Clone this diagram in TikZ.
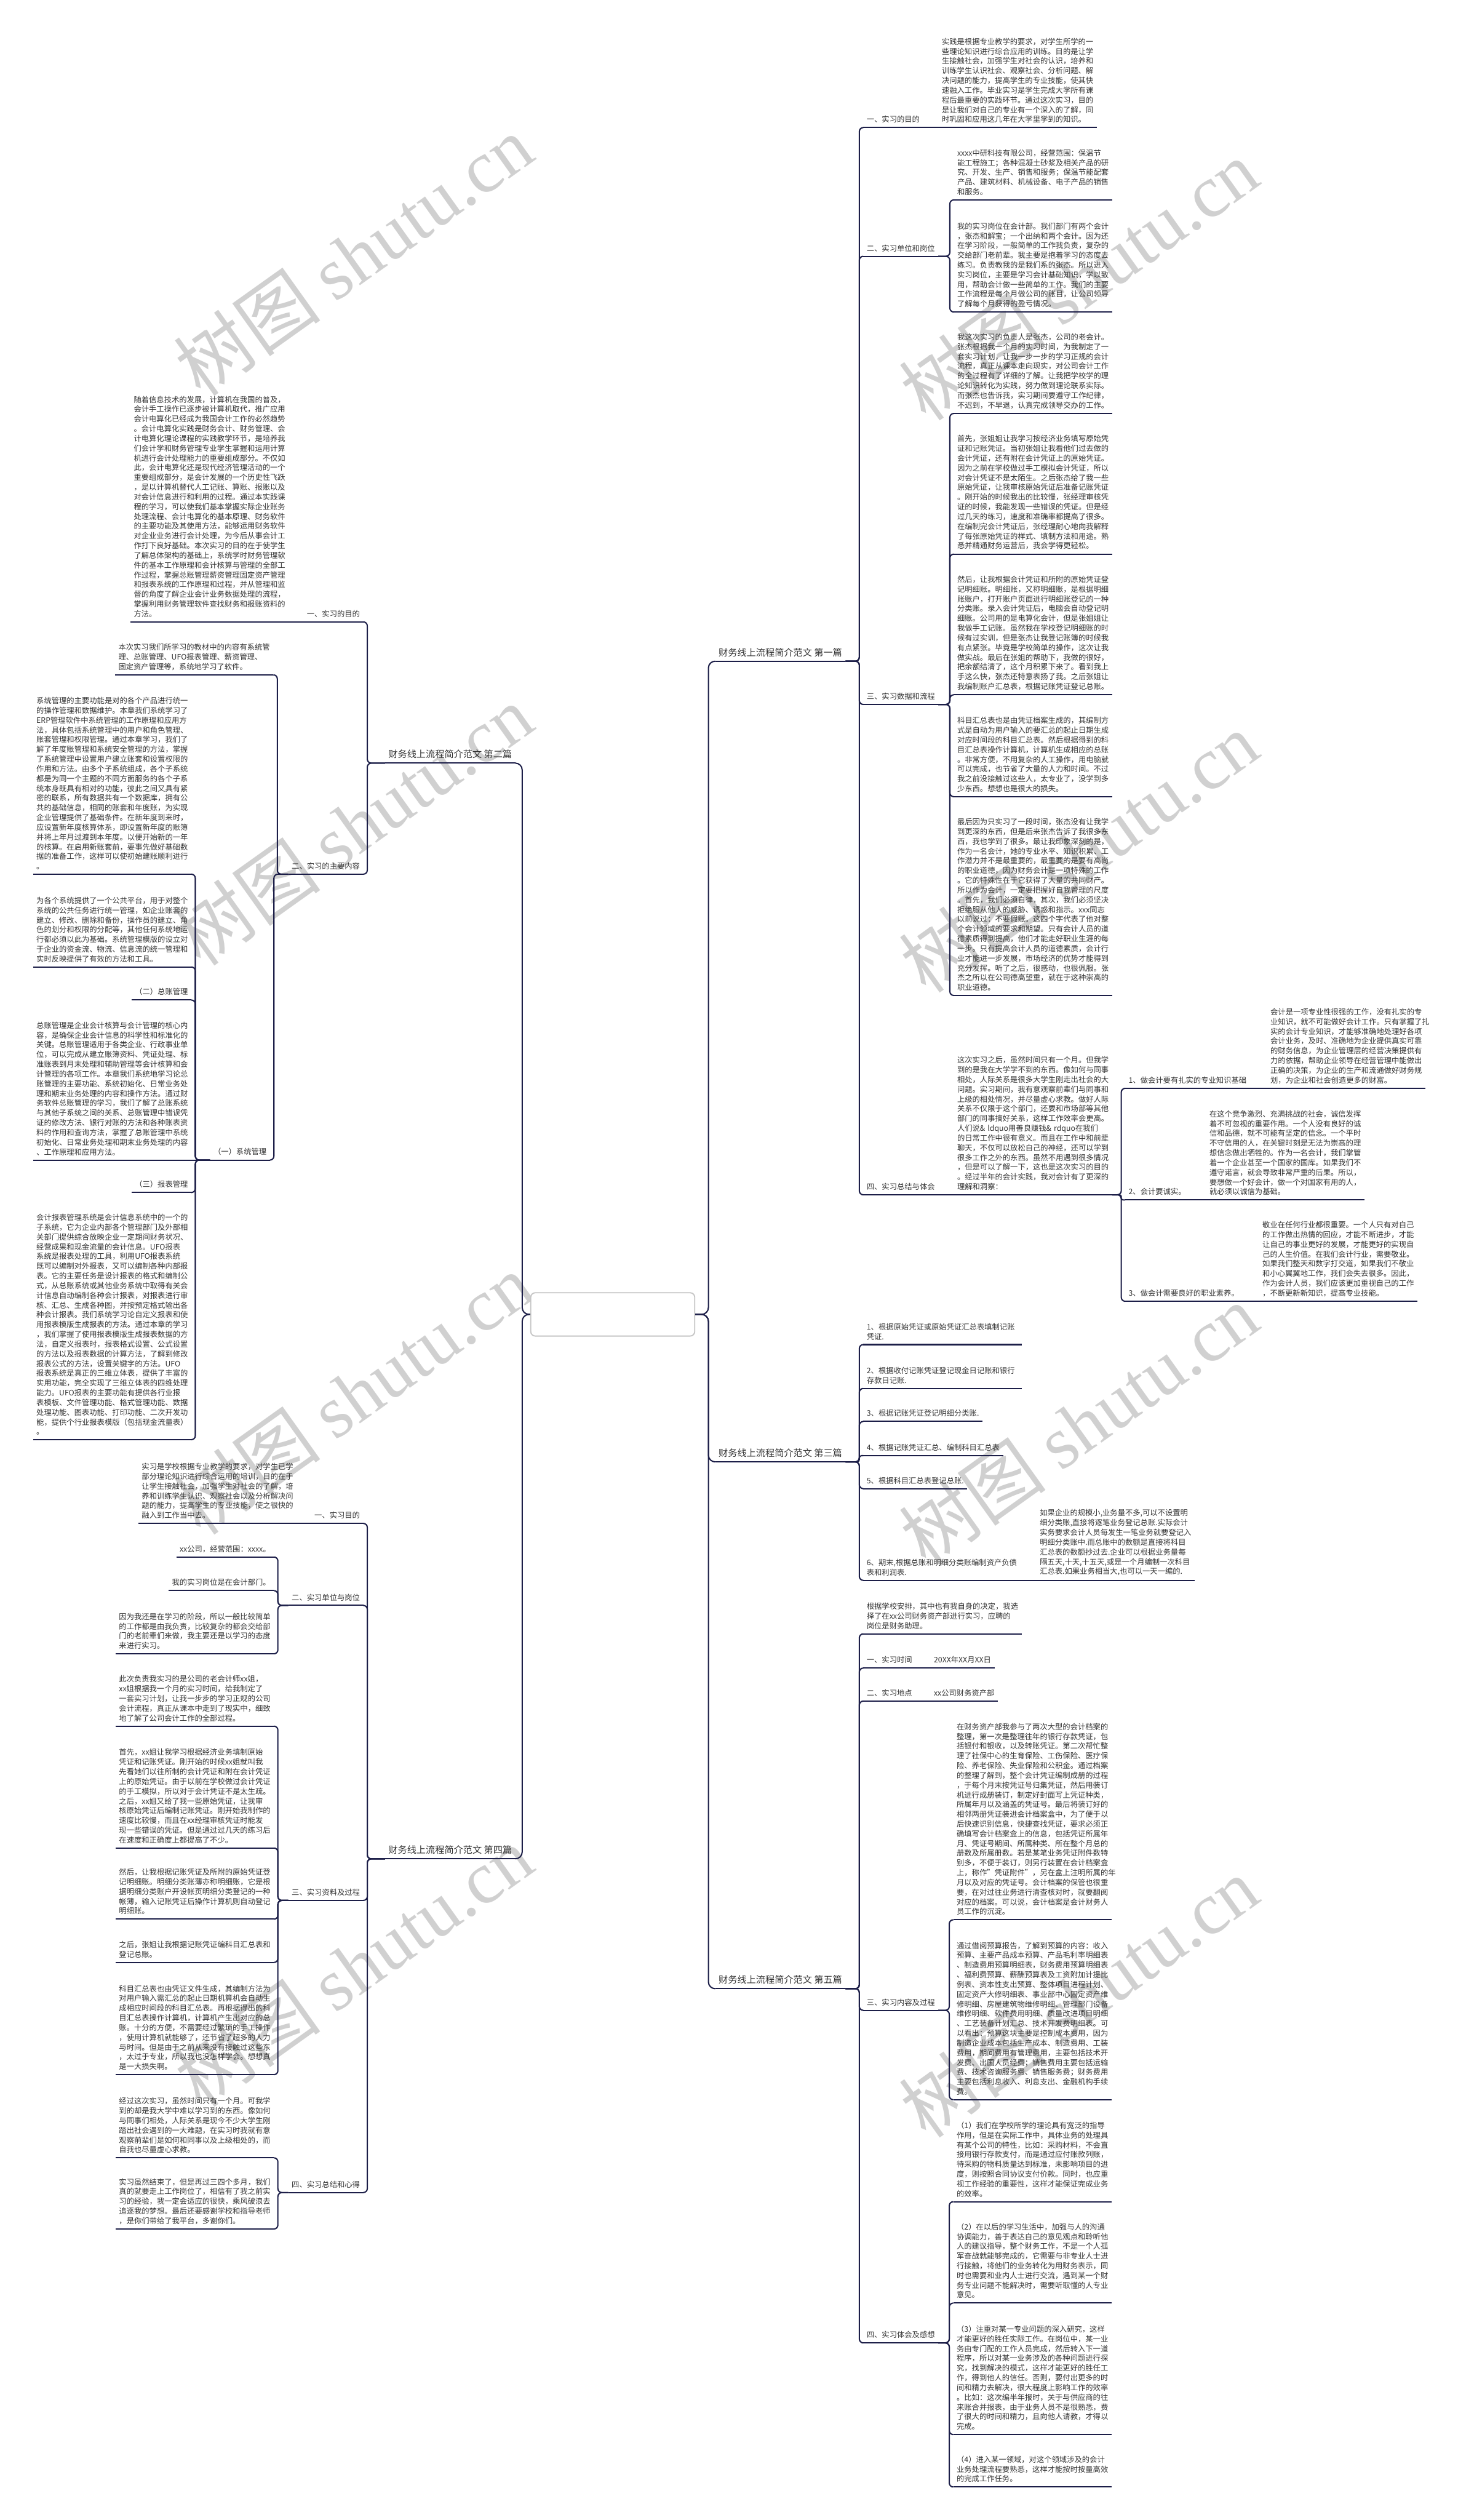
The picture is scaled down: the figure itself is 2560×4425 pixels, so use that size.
\documentclass[tikz,border=0pt]{standalone}
\usepackage{fontspec}
\setmainfont{Noto Sans CJK SC}
\newfontfamily\wmlatin{Liberation Serif}
\usepackage{xcolor}
\definecolor{colTrait}{RGB}{28,30,72}
\definecolor{colTexte}{RGB}{51,51,51}
\definecolor{colFiligrane}{RGB}{208,208,208}
\newcommand\corps{\fontsize{6.65pt}{8.55pt}\selectfont}
\newcommand\grand{\fontsize{8.2pt}{10pt}\selectfont}

\tikzset{
  branche/.style={draw=colTrait, line width=1.1pt},
  item/.style={font=\corps, text=colTexte, inner xsep=3pt, inner ysep=4pt,
               outer sep=0pt, align=left},
  droite/.style={item, anchor=south west},
  gauche/.style={item, anchor=south east},
  bloc/.style={text width=133pt},
  titre/.style={font=\grand},
  racine/.style={draw=gray!45, line width=1pt, rounded corners=4pt, fill=white,
                 minimum width=144pt, minimum height=38pt},
  filigrane/.style={font=\fontsize{65pt}{65pt}\selectfont, text=colFiligrane,
                    rotate=35.5, anchor=base west, inner sep=0pt}
}
\newcommand\rlink[3][3.5pt]{\draw[branche, rounded corners=#1] (#2) -| ([xshift=-3.5pt]#3) -- (#3);}
\newcommand\llink[3][3.5pt]{\draw[branche, rounded corners=#1] (#2) -| ([xshift=3.5pt]#3) -- (#3);}

\begin{document}
\begin{tikzpicture}[x=0.5pt, y=-0.5pt]

\fill[white] (0,0) rectangle (2560,4425);
\useasboundingbox (0,0) rectangle (2560,4425);

% Filigrane
\foreach \y in {700,1700,2699,3704} {
    \node[filigrane] at (353,\y) {树图 {\wmlatin shutu.cn}};
}
\foreach \y in {743,1748,2753,3758} {
    \node[filigrane] at (1627,\y) {树图 {\wmlatin shutu.cn}};
}

% Racine
\node[racine] (root) at (1076,2308) {};

% Colonnes
\def\xa{1516}
\def\xb{1675}
\def\xl{638}
\def\xm{481}
\def\xn{336}

% ---------- Premier article (droite, haut)
\node[droite, titre] (A) at (1256,1161) {财务线上流程简介范文 第一篇};
\node[droite] (A1) at (\xa,224) {一、实习的目的};
\node[droite, bloc] (A1t) at (1648,224) {实践是根据专业教学的要求，对学生所学的一\\
些理论知识进行综合应用的训练。目的是让学\\
生接触社会，加强学生对社会的认识，培养和\\
训练学生认识社会、观察社会、分析问题、解\\
决问题的能力，提高学生的专业技能，使其快\\
速融入工作。毕业实习是学生完成大学所有课\\
程后最重要的实践环节。通过这次实习，目的\\
是让我们对自己的专业有一个深入的了解，同\\
时巩固和应用这几年在大学里学到的知识。};
\node[droite] (A2) at (\xa,450) {二、实习单位和岗位};
\node[droite, bloc] (A2a) at (\xb,351) {xxxx中研科技有限公司，经营范围：保温节\\
能工程施工；各种混凝土砂浆及相关产品的研\\
究、开发、生产、销售和服务；保温节能配套\\
产品、建筑材料、机械设备、电子产品的销售\\
和服务。};
\node[droite, bloc] (A2b) at (\xb,548) {我的实习岗位在会计部。我们部门有两个会计\\
，张杰和解宝；一个出纳和两个会计。因为还\\
在学习阶段，一般简单的工作我负责，复杂的\\
交给部门老前辈。我主要是抱着学习的态度去\\
练习。负责教我的是我们系的张杰。所以进入\\
实习岗位，主要是学习会计基础知识，学以致\\
用，帮助会计做一些简单的工作。我们的主要\\
工作流程是每个月做公司的账目，让公司领导\\
了解每个月获得的盈亏情况。};
\node[droite] (A3) at (\xa,1237) {三、实习数据和流程};
\node[droite, bloc] (A3a) at (\xb,726) {我这次实习的负责人是张杰，公司的老会计。\\
张杰根据我一个月的实习时间，为我制定了一\\
套实习计划，让我一步一步的学习正规的会计\\
流程，真正从课本走向现实，对公司会计工作\\
的全过程有了详细的了解。让我把学校学的理\\
论知识转化为实践，努力做到理论联系实际。\\
而张杰也告诉我，实习期间要遵守工作纪律，\\
不迟到，不早退，认真完成领导交办的工作。};
\node[droite, bloc] (A3b) at (\xb,973) {首先，张姐姐让我学习按经济业务填写原始凭\\
证和记账凭证。当初张姐让我看他们过去做的\\
会计凭证，还有附在会计凭证上的原始凭证。\\
因为之前在学校做过手工模拟会计凭证，所以\\
对会计凭证不是太陌生。之后张杰给了我一些\\
原始凭证，让我审核原始凭证后准备记账凭证\\
。刚开始的时候我出的比较慢，张经理审核凭\\
证的时候，我能发现一些错误的凭证。但是经\\
过几天的练习，速度和准确率都提高了很多。\\
在编制完会计凭证后，张经理耐心地向我解释\\
了每张原始凭证的样式、填制方法和用途。熟\\
悉并精通财务运营后，我会学得更轻松。};
\node[droite, bloc] (A3c) at (\xb,1220) {然后，让我根据会计凭证和所附的原始凭证登\\
记明细账。明细账，又称明细账，是根据明细\\
账账户，打开账户页面进行明细账登记的一种\\
分类账。录入会计凭证后，电脑会自动登记明\\
细账。公司用的是电算化会计，但是张姐姐让\\
我做手工记账。虽然我在学校登记明细账的时\\
候有过实训，但是张杰让我登记账簿的时候我\\
有点紧张。毕竟是学校简单的操作，这次让我\\
做实战。最后在张姐的帮助下，我做的很好，\\
把余额结清了，这个月积累下来了。看到我上\\
手这么快，张杰还特意表扬了我。之后张姐让\\
我编制账户汇总表，根据记账凭证登记总账。};
\node[droite, bloc] (A3d) at (\xb,1399) {科目汇总表也是由凭证档案生成的，其编制方\\
式是自动为用户输入的要汇总的起止日期生成\\
对应时间段的科目汇总表。然后根据得到的科\\
目汇总表操作计算机，计算机生成相应的总账\\
。非常方便，不用复杂的人工操作，用电脑就\\
可以完成，也节省了大量的人力和时间。不过\\
我之前没接触过这些人，太专业了，没学到多\\
少东西。想想也是很大的损失。};
\node[droite, bloc] (A3e) at (\xb,1748) {最后因为只实习了一段时间，张杰没有让我学\\
到更深的东西，但是后来张杰告诉了我很多东\\
西，我也学到了很多。最让我印象深刻的是，\\
作为一名会计，她的专业水平、知识积累、工\\
作潜力并不是最重要的，最重要的是要有高尚\\
的职业道德，因为财务会计是一项特殊的工作\\
。它的特殊性在于它获得了大量的共同财产。\\
所以作为会计，一定要把握好自我管理的尺度\\
。首先，我们必须自律，其次，我们必须坚决\\
拒绝服从他人的威胁、诱惑和指示。xxx同志\\
以前说过：不要假账。这四个字代表了他对整\\
个会计领域的要求和期望。只有会计人员的道\\
德素质得到提高，他们才能走好职业生涯的每\\
一步。只有提高会计人员的道德素质，会计行\\
业才能进一步发展，市场经济的优势才能得到\\
充分发挥。听了之后，很感动，也很佩服。张\\
杰之所以在公司德高望重，就在于这种崇高的\\
职业道德。};
\node[droite] (A4) at (\xa,2098) {四、实习总结与体会};
\node[droite, bloc] (A4t) at (\xb,2098) {这次实习之后，虽然时间只有一个月。但我学\\
到的是我在大学学不到的东西。像如何与同事\\
相处，人际关系是很多大学生刚走出社会的大\\
问题。实习期间，我有意观察前辈们与同事和\\
上级的相处情况，并尽量虚心求教。做好人际\\
关系不仅限于这个部门，还要和市场部等其他\\
部门的同事搞好关系，这样工作效率会更高。\\
人们说\& ldquo用善良赚钱\& rdquo在我们\\
的日常工作中很有意义。而且在工作中和前辈\\
聊天，不仅可以放松自己的神经，还可以学到\\
很多工作之外的东西。虽然不用遇到很多情况\\
，但是可以了解一下，这也是这次实习的目的\\
。经过半年的会计实践，我对会计有了更深的\\
理解和洞察：};
\node[droite] (A4i1) at (1976,1911) {1、做会计要有扎实的专业知识基础};
\node[droite, bloc] (A4i1t) at (2225,1911) {会计是一项专业性很强的工作，没有扎实的专\\
业知识，就不可能做好会计工作。只有掌握了扎\\
实的会计专业知识，才能够准确地处理好各项\\
会计业务，及时、准确地为企业提供真实可靠\\
的财务信息，为企业管理层的经营决策提供有\\
力的依据，帮助企业领导在经营管理中能做出\\
正确的决策，为企业的生产和流通做好财务规\\
划，为企业和社会创造更多的财富。};
\node[droite] (A4i2) at (1976,2107) {2、会计要诚实。};
\node[droite, bloc] (A4i2t) at (2118,2107) {在这个竞争激烈、充满挑战的社会，诚信发挥\\
着不可忽视的重要作用。一个人没有良好的诚\\
信和品德，就不可能有坚定的信念。一个平时\\
不守信用的人，在关键时刻是无法为崇高的理\\
想信念做出牺牲的。作为一名会计，我们掌管\\
着一个企业甚至一个国家的国库。如果我们不\\
遵守诺言，就会导致非常严重的后果。所以，\\
要想做一个好会计，做一个对国家有用的人，\\
就必须以诚信为基础。};
\node[droite] (A4i3) at (1976,2285) {3、做会计需要良好的职业素养。};
\node[droite, bloc] (A4i3t) at (2211,2285) {敬业在任何行业都很重要。一个人只有对自己\\
的工作做出热情的回应，才能不断进步，才能\\
让自己的事业更好的发展，才能更好的实现自\\
己的人生价值。在我们会计行业，需要敬业。\\
如果我们整天和数字打交道，如果我们不敬业\\
和小心翼翼地工作，我们会失去很多。因此，\\
作为会计人员，我们应该更加重视自己的工作\\
，不断更新新知识，提高专业技能。};

% ---------- Troisieme article (droite, milieu)
\node[droite, titre] (C) at (1256,2567) {财务线上流程简介范文 第三篇};
\node[droite, bloc] (C1) at (\xa,2361) {1、根据原始凭证或原始凭证汇总表填制记账\\凭证.};
\node[droite, bloc] (C2) at (\xa,2438) {2、根据收付记账凭证登记现金日记账和银行\\存款日记账.};
\node[droite] (C3) at (\xa,2496) {3、根据记账凭证登记明细分类账.};
\node[droite] (C4) at (\xa,2556) {4、根据记账凭证汇总、编制科目汇总表};
\node[droite] (C5) at (\xa,2614) {5、根据科目汇总表登记总账.};
\node[droite, bloc] (C6) at (\xa,2775) {6、期末,根据总账和明细分类账编制资产负债\\表和利润表.};
\node[droite, bloc] (C6t) at (1820,2775) {如果企业的规模小,业务量不多,可以不设置明\\
细分类账,直接将逐笔业务登记总账.实际会计\\
实务要求会计人员每发生一笔业务就要登记入\\
明细分类账中.而总账中的数额是直接将科目\\
汇总表的数额抄过去.企业可以根据业务量每\\
隔五天,十天,十五天,或是一个月编制一次科目\\
汇总表.如果业务相当大,也可以一天一编的.};

% ---------- Cinquieme article (droite, bas)
\node[droite, titre] (E) at (1256,3492) {财务线上流程简介范文 第五篇};
\node[droite, bloc] (E0) at (\xa,2869) {根据学校安排，其中也有我自身的决定，我选\\
择了在xx公司财务资产部进行实习，应聘的\\
岗位是财务助理。};
\node[droite] (E1) at (\xa,2929) {一、实习时间};
\node[droite] (E1t) at (1634,2929) {20XX年XX月XX日};
\node[droite] (E2) at (\xa,2987) {二、实习地点};
\node[droite] (E2t) at (1634,2987) {xx公司财务资产部};
\node[droite] (E3) at (\xa,3530) {三、实习内容及过程};
\node[droite, bloc] (E3a) at (1674,3371) {在财务资产部我参与了两次大型的会计档案的\\
整理，第一次是整理往年的银行存款凭证，包\\
括银付和银收，以及转账凭证。第二次帮忙整\\
理了社保中心的生育保险、工伤保险、医疗保\\
险、养老保险、失业保险和公积金。通过档案\\
的整理了解到，整个会计凭证编制成册的过程\\
，于每个月末按凭证号归集凭证，然后用装订\\
机进行成册装订，制定好封面写上凭证种类，\\
所属年月以及涵盖的凭证号。最后将装订好的\\
相邻两册凭证装进会计档案盒中，为了便于以\\
后快速识别信息，快捷查找凭证，要求必须正\\
确填写会计档案盒上的信息，包括凭证所属年\\
月、凭证号期间、所属种类、所在整个月总的\\
册数及所属册数。若是某笔业务凭证附件数特\\
别多，不便于装订，则另行装置在会计档案盒\\
上，称作"凭证附件"，另在盒上注明所属的年\\
月以及对应的凭证号。会计档案的保管也很重\\
要，在对过往业务进行清查核对时，就要翻阅\\
对应的档案。可以说，会计档案是会计财务人\\
员工作的沉淀。};
\node[droite, bloc] (E3b) at (1674,3687) {通过借阅预算报告，了解到预算的内容：收入\\
预算、主要产品成本预算、产品毛利率明细表\\
、制造费用预算明细表，财务费用预算明细表\\
、福利费预算、薪酬预算表及工资附加计提比\\
例表、资本性支出预算、整体项目进程计划、\\
固定资产大修明细表、事业部中心固定资产维\\
修明细、房屋建筑物维修明细、管理部门设备\\
维修明细、软件费用明细、质量改进项目明细\\
、工艺装备计划汇总、技术开发费明细表。可\\
以看出：预算这块主要是控制成本费用，因为\\
制造企业成本包括生产成本、制造费用、工装\\
费用，期间费用有管理费用，主要包括技术开\\
发费、出国人员经费；销售费用主要包括运输\\
费、技术咨询服务费、销售服务费；财务费用\\
主要包括利息收入、利息支出、金融机构手续\\
费。};
\node[droite] (E4) at (\xa,4114) {四、实习体会及感想};
\node[droite, bloc] (E4a) at (1674,3866) {（1）我们在学校所学的理论具有宽泛的指导\\
作用，但是在实际工作中，具体业务的处理具\\
有某个公司的特性，比如：采购材料，不会直\\
接用银行存款支付，而是通过应付账款列账，\\
待采购的物料质量达到标准，未影响项目的进\\
度，则按照合同协议支付价款。同时，也应重\\
视工作经验的重要性，这样才能保证完成业务\\
的效率。};
\node[droite, bloc] (E4b) at (1674,4044) {（2）在以后的学习生活中，加强与人的沟通\\
协调能力，善于表达自己的意见观点和聆听他\\
人的建议指导，整个财务工作，不是一个人孤\\
军奋战就能够完成的，它需要与非专业人士进\\
行接触，将他们的业务转化为用财务表示，同\\
时也需要和业内人士进行交流，遇到某一个财\\
务专业问题不能解决时，需要听取懂的人专业\\
意见。};
\node[droite, bloc] (E4c) at (1674,4275) {（3）注重对某一专业问题的深入研究，这样\\
才能更好的胜任实际工作。在岗位中，某一业\\
务由专门配的工作人员完成，然后转入下一道\\
程序，所以对某一业务涉及的各种问题进行探\\
究，找到解决的模式，这样才能更好的胜任工\\
作，得到他人的信任。否则，要付出更多的时\\
间和精力去解决，很大程度上影响工作的效率\\
。比如：这次编半年报时，关于与供应商的往\\
来账合并报表，由于业务人员不是很熟悉，费\\
了很大的时间和精力，且向他人请教，才得以\\
完成。};
\node[droite, bloc] (E4d) at (1674,4367) {（4）进入某一领域，对这个领域涉及的会计\\
业务处理流程要熟悉，这样才能按时按量高效\\
的完成工作任务。};

% ---------- Deuxieme article (gauche, haut)
\node[gauche, titre] (B) at (905,1340) {财务线上流程简介范文 第二篇};
\node[gauche] (B1) at (\xl,1092) {一、实习的目的};
\node[gauche, bloc] (B1t) at (507,1092) {随着信息技术的发展，计算机在我国的普及，\\
会计手工操作已逐步被计算机取代，推广应用\\
会计电算化已经成为我国会计工作的必然趋势\\
。会计电算化实践是财务会计、财务管理、会\\
计电算化理论课程的实践教学环节，是培养我\\
们会计学和财务管理专业学生掌握和运用计算\\
机进行会计处理能力的重要组成部分。不仅如\\
此，会计电算化还是现代经济管理活动的一个\\
重要组成部分，是会计发展的一个历史性飞跃\\
，是以计算机替代人工记账、算账、报账以及\\
对会计信息进行和利用的过程。通过本实践课\\
程的学习，可以使我们基本掌握实际企业账务\\
处理流程、会计电算化的基本原理、财务软件\\
的主要功能及其使用方法，能够运用财务软件\\
对企业业务进行会计处理，为今后从事会计工\\
作打下良好基础。本次实习的目的在于使学生\\
了解总体架构的基础上，系统学时财务管理软\\
件的基本工作原理和会计核算与管理的全部工\\
作过程，掌握总账管理薪资管理固定资产管理\\
和报表系统的工作原理和过程，并从管理和监\\
督的角度了解企业会计业务数据处理的流程，\\
掌握利用财务管理软件查找财务和报账资料的\\
方法。};
\node[gauche] (B2) at (\xl,1535) {二、实习的主要内容};
\node[gauche, bloc] (B2a) at (480,1185) {本次实习我们所学习的教材中的内容有系统管\\
理、总账管理、UFO报表管理、薪资管理、\\
固定资产管理等，系统地学习了软件。};
\node[gauche] (B2b) at (474,2037) {（一）系统管理};
\node[gauche, bloc] (B2b1) at (\xn,1535) {系统管理的主要功能是对的各个产品进行统一\\
的操作管理和数据维护。本章我们系统学习了\\
ERP管理软件中系统管理的工作原理和应用方\\
法，具体包括系统管理中的用户和角色管理、\\
账套管理和权限管理。通过本章学习，我们了\\
解了年度账管理和系统安全管理的方法，掌握\\
了系统管理中设置用户建立账套和设置权限的\\
作用和方法。由多个子系统组成，各个子系统\\
都是为同一个主题的不同方面服务的各个子系\\
统本身既具有相对的功能，彼此之间又具有紧\\
密的联系，所有数据共有一个数据库，拥有公\\
共的基础信息，相同的账套和年度账，为实现\\
企业管理提供了基础条件。在新年度到来时，\\
应设置新年度核算体系，即设置新年度的账簿\\
并将上年月过渡到本年度。以便开始新的一年\\
的核算。在启用新账套前，要事先做好基础数\\
据的准备工作，这样可以使初始建账顺利进行\\
。};
\node[gauche, bloc] (B2b2) at (\xn,1698) {为各个系统提供了一个公共平台，用于对整个\\
系统的公共任务进行统一管理，如企业账套的\\
建立、修改、删除和备份，操作员的建立、角\\
色的划分和权限的分配等，其他任何系统地运\\
行都必须以此为基础。系统管理模版的设立对\\
于企业的资金流、物流、信息流的统一管理和\\
实时反映提供了有效的方法和工具。};
\node[gauche] (B2b3) at (\xn,1756) {（二）总账管理};
\node[gauche, bloc] (B2b4) at (\xn,2037) {总账管理是企业会计核算与会计管理的核心内\\
容，是确保企业会计信息的科学性和标准化的\\
关键。总账管理适用于各类企业、行政事业单\\
位，可以完成从建立账簿资料、凭证处理、标\\
准账表到月末处理和辅助管理等会计核算和会\\
计管理的各项工作。本章我们系统地学习论总\\
账管理的主要功能、系统初始化、日常业务处\\
理和期末业务处理的内容和操作方法。通过财\\
务软件总账管理的学习，我们了解了总账系统\\
与其他子系统之间的关系、总账管理中错误凭\\
证的修改方法、银行对账的方法和各种账表资\\
料的作用和查询方法，掌握了总账管理中系统\\
初始化、日常业务处理和期末业务处理的内容\\
、工作原理和应用方法。};
\node[gauche] (B2b5) at (\xn,2094) {（三）报表管理};
\node[gauche, bloc] (B2b6) at (\xn,2528) {会计报表管理系统是会计信息系统中的一个的\\
子系统，它为企业内部各个管理部门及外部相\\
关部门提供综合放映企业一定期间财务状况、\\
经营成果和现金流量的会计信息。UFO报表\\
系统是报表处理的工具，利用UFO报表系统\\
既可以编制对外报表，又可以编制各种内部报\\
表。它的主要任务是设计报表的格式和编制公\\
式，从总账系统或其他业务系统中取得有关会\\
计信息自动编制各种会计报表，对报表进行审\\
核、汇总、生成各种图，并按预定格式输出各\\
种会计报表。我们系统学习论自定义报表和使\\
用报表模版生成报表的方法。通过本章的学习\\
，我们掌握了使用报表模版生成报表数据的方\\
法，自定义报表时，报表格式设置、公式设置\\
的方法以及报表数据的计算方法，了解到修改\\
报表公式的方法，设置关键字的方法。UFO\\
报表系统是真正的三维立体表，提供了丰富的\\
实用功能，完全实现了三维立体表的四维处理\\
能力。UFO报表的主要功能有提供各行业报\\
表模板、文件管理功能、格式管理功能、数据\\
处理功能、图表功能、打印功能、二次开发功\\
能，提供个行业报表模版（包括现金流量表）\\
。};

% ---------- Quatrieme article (gauche, bas)
\node[gauche, titre] (D) at (905,3264) {财务线上流程简介范文 第四篇};
\node[gauche] (D1) at (\xl,2675) {一、实习目的};
\node[gauche, bloc] (D1t) at (521,2675) {实习是学校根据专业教学的要求，对学生已学\\
部分理论知识进行综合运用的培训，目的在于\\
让学生接触社会，加强学生对社会的了解，培\\
养和训练学生认识、观察社会以及分析解决问\\
题的能力，提高学生的专业技能，使之很快的\\
融入到工作当中去。};
\node[gauche] (D2) at (\xl,2819) {二、实习单位与岗位};
\node[gauche] (D2a) at (\xm,2734) {xx公司，经营范围：xxxx。};
\node[gauche] (D2b) at (\xm,2793) {我的实习岗位是在会计部门。};
\node[gauche, bloc] (D2c) at (\xm,2904) {因为我还是在学习的阶段，所以一般比较简单\\
的工作都是由我负责，比较复杂的都会交给部\\
门的老前辈们来做，我主要还是以学习的态度\\
来进行实习。};
\node[gauche] (D3) at (\xl,3337) {三、实习资料及过程};
\node[gauche, bloc] (D3a) at (\xm,3031) {此次负责我实习的是公司的老会计师xx姐，\\
xx姐根据我一个月的实习时间，给我制定了\\
一套实习计划，让我一步步的学习正规的公司\\
会计流程，真正从课本中走到了现实中，细致\\
地了解了公司会计工作的全部过程。};
\node[gauche, bloc] (D3b) at (\xm,3245) {首先，xx姐让我学习根据经济业务填制原始\\
凭证和记账凭证。刚开始的时候xx姐就叫我\\
先看她们以往所制的会计凭证和附在会计凭证\\
上的原始凭证。由于以前在学校做过会计凭证\\
的手工模拟，所以对于会计凭证不是太生疏。\\
之后，xx姐又给了我一些原始凭证，让我审\\
核原始凭证后编制记账凭证。刚开始我制作的\\
速度比较慢，而且在xx经理审核凭证时能发\\
现一些错误的凭证。但是通过过几天的练习后\\
在速度和正确度上都提高了不少。};
\node[gauche, bloc] (D3c) at (\xm,3370) {然后，让我根据记账凭证及所附的原始凭证登\\
记明细账。明细分类账薄亦称明细账，它是根\\
据明细分类账户开设帐页明细分类登记的一种\\
帐薄，输入记账凭证后操作计算机则自动登记\\
明细账。};
\node[gauche, bloc] (D3d) at (\xm,3446) {之后，张姐让我根据记账凭证编科目汇总表和\\
登记总账。};
\node[gauche, bloc] (D3e) at (\xm,3643) {科目汇总表也由凭证文件生成，其编制方法为\\
对用户输入需汇总的起止日期机算机会自动生\\
成相应时间段的科目汇总表。再根据得出的科\\
目汇总表操作计算机，计算机产生出对应的总\\
账。十分的方便，不需要经过繁琐的手工操作\\
，使用计算机就能够了，还节省了超多的人力\\
与时间。但是由于之前从来没有接触过这些东\\
，太过于专业，所以我也没怎样学会。想想真\\
是一大损失啊。};
\node[gauche] (D4) at (\xl,3850) {四、实习总结和心得};
\node[gauche, bloc] (D4a) at (\xm,3789) {经过这次实习，虽然时间只有一个月。可我学\\
到的却是我大学中难以学习到的东西。像如何\\
与同事们相处，人际关系是现今不少大学生刚\\
踏出社会遇到的一大难题，在实习时我就有意\\
观察前辈们是如何和同事以及上级相处的，而\\
自我也尽量虚心求教。};
\node[gauche, bloc] (D4b) at (\xm,3914) {实习虽然结束了，但是再过三四个多月，我们\\
真的就要走上工作岗位了，相信有了我之前实\\
习的经验，我一定会适应的很快，乘风破浪去\\
追逐我的梦想。最后还要感谢学校和指导老师\\
，是你们带给了我平台，多谢你们。};

% Soulignements
\foreach \n in {A,A1,A1t,A2,A2a,A2b,A3,A3a,A3b,A3c,A3d,A3e,A4,A4t,
                A4i1,A4i1t,A4i2,A4i2t,A4i3,A4i3t,
                C,C1,C2,C3,C4,C5,C6,C6t,
                E,E0,E1,E1t,E2,E2t,E3,E3a,E3b,E4,E4a,E4b,E4c,E4d,
                B,B1,B1t,B2,B2a,B2b,B2b1,B2b2,B2b3,B2b4,B2b5,B2b6,
                D,D1,D1t,D2,D2a,D2b,D2c,D3,D3a,D3b,D3c,D3d,D3e,D4,D4a,D4b} {
    \draw[branche] (\n.south west) -- (\n.south east);
}

% Liaisons depuis la racine
\foreach \m in {A,C,E} {
    \draw[branche, rounded corners=6pt] (root.east) -| ([xshift=-6pt]\m.south west) -- (\m.south west);
}
\foreach \m in {B,D} {
    \draw[branche, rounded corners=6pt] (root.west) -| ([xshift=6pt]\m.south east) -- (\m.south east);
}

% Liaisons a droite
\foreach \c in {A1,A2,A3,A4} \rlink{A.south east}{\c.south west};
\foreach \c in {A2a,A2b} \rlink{A2.south east}{\c.south west};
\foreach \c in {A3a,A3b,A3c,A3d,A3e} \rlink{A3.south east}{\c.south west};
\rlink{A4t.south east}{A4i1.south west}
\rlink[1.5pt]{A4t.south east}{A4i2.south west}
\rlink{A4t.south east}{A4i3.south west}
\foreach \c in {C1,C2,C3,C5,C6} \rlink{C.south east}{\c.south west};
\rlink[2pt]{C.south east}{C4.south west}
\foreach \c in {E0,E1,E2,E3,E4} \rlink{E.south east}{\c.south west};
\foreach \c in {E3a,E3b} \rlink{E3.south east}{\c.south west};
\foreach \c in {E4a,E4b,E4c,E4d} \rlink{E4.south east}{\c.south west};
\foreach \p/\c in {A1/A1t,A4/A4t,A4i1/A4i1t,A4i2/A4i2t,A4i3/A4i3t,C6/C6t,E1/E1t,E2/E2t} {
    \draw[branche] (\p.south east) -- (\c.south west);
}

% Liaisons a gauche
\foreach \c in {B1,B2} \llink{B.south west}{\c.south east};
\foreach \c in {B2a,B2b} \llink{B2.south west}{\c.south east};
\foreach \c in {B2b1,B2b2,B2b3,B2b5,B2b6} \llink{B2b.south west}{\c.south east};
\foreach \c in {D1,D2,D3,D4} \llink{D.south west}{\c.south east};
\foreach \c in {D2a,D2b,D2c} \llink{D2.south west}{\c.south east};
\foreach \c in {D3a,D3b,D3c,D3d,D3e} \llink{D3.south west}{\c.south east};
\foreach \c in {D4a,D4b} \llink{D4.south west}{\c.south east};
\foreach \p/\c in {B1/B1t,B2b/B2b4,D1/D1t} {
    \draw[branche] (\p.south west) -- (\c.south east);
}

\end{tikzpicture}
\end{document}
